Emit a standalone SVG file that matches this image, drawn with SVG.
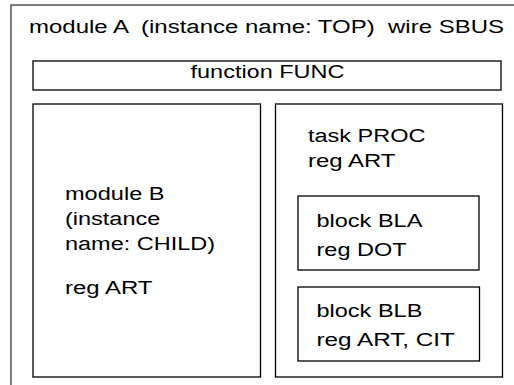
<svg xmlns="http://www.w3.org/2000/svg" width="514" height="385" viewBox="0 0 514 385">
<style>
.box{fill:none;stroke:#000;stroke-width:1.3}
.outer{fill:none;stroke:#333;stroke-width:1.3}
text{font-family:"Liberation Sans",Arial,sans-serif;font-size:18.8px;fill:#000;white-space:pre}
</style>
<rect width="514" height="385" fill="#fff"/>
<g id="moduleA">
<rect class="outer" x="11" y="5" width="620" height="500"/>
<text x="29" y="33" textLength="475" lengthAdjust="spacingAndGlyphs">module A  (instance name: TOP)  wire SBUS</text>
</g>
<g id="func">
<rect class="box" x="33" y="61" width="468" height="29"/>
<text x="190.5" y="77.5" textLength="154" lengthAdjust="spacingAndGlyphs">function FUNC</text>
</g>
<g id="moduleB">
<rect class="box" x="33" y="104" width="227.5" height="273"/>
<text x="65" y="200" textLength="99.5" lengthAdjust="spacingAndGlyphs">module B</text>
<text x="65" y="225" textLength="95.3" lengthAdjust="spacingAndGlyphs">(instance</text>
<text x="65" y="250" textLength="150" lengthAdjust="spacingAndGlyphs">name: CHILD)</text>
<text x="65" y="294" textLength="87.5" lengthAdjust="spacingAndGlyphs">reg ART</text>
</g>
<g id="taskPROC">
<rect class="box" x="275.5" y="104" width="227" height="273"/>
<text x="308" y="141.5" textLength="117.5" lengthAdjust="spacingAndGlyphs">task PROC</text>
<text x="308" y="166.5" textLength="87.5" lengthAdjust="spacingAndGlyphs">reg ART</text>
</g>
<g id="blockBLA">
<rect class="box" x="298" y="196" width="181" height="74"/>
<text x="316.5" y="227" textLength="105.8" lengthAdjust="spacingAndGlyphs">block BLA</text>
<text x="316.5" y="255.5" textLength="90.1" lengthAdjust="spacingAndGlyphs">reg DOT</text>
</g>
<g id="blockBLB">
<rect class="box" x="298" y="287" width="181.5" height="74"/>
<text x="316.5" y="317" textLength="105.8" lengthAdjust="spacingAndGlyphs">block BLB</text>
<text x="316.5" y="346" textLength="138.4" lengthAdjust="spacingAndGlyphs">reg ART, CIT</text>
</g>
<g id="connectors"></g>
</svg>
